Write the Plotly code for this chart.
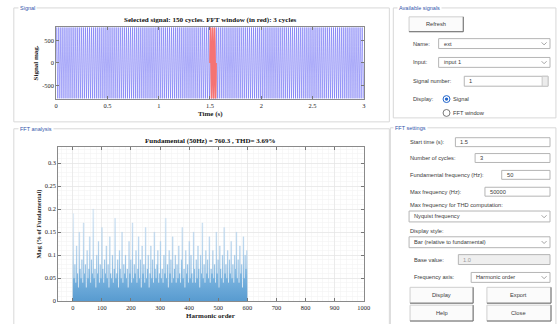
import numpy as np
import plotly.graph_objects as go

W, H = 557, 324

# ---------------- data ----------------
signal_cycles = 150
signal_freq_hz = 50
signal_peak = 790.0
window_start_s = 1.5
window_cycles = 3

time_ticks = [0, 0.5, 1, 1.5, 2, 2.5, 3]
time_tick_labels = ["0", "0.5", "1", "1.5", "2", "2.5", "3"]
sig_ticks = [-500, 0, 500]
sig_tick_labels = ["-500", "0", "500"]

harm_ticks = [0, 100, 200, 300, 400, 500, 600, 700, 800, 900, 1000]
mag_ticks = [0, 0.05, 0.1, 0.15, 0.2, 0.25, 0.3]
mag_tick_labels = ["0", "0.05", "0.1", "0.15", "0.2", "0.25", "0.3"]

harm_step = 3
harm_mags = [
    0.19,0.05,0.08,0.04,0.12,0.06,0.03,0.15,0.07,0.05,0.09,0.04,0.17,0.06,0.08,0.03,0.11,0.05,0.07,0.14,
    0.04,0.09,0.06,0.20,0.05,0.07,0.03,0.10,0.06,0.13,0.04,0.08,0.05,0.16,0.07,0.04,0.09,0.06,0.12,0.05,
    0.08,0.03,0.14,0.06,0.05,0.10,0.04,0.07,0.18,0.05,0.06,0.09,0.03,0.11,0.07,0.05,0.15,0.04,0.08,0.06,
    0.10,0.05,0.07,0.03,0.13,0.06,0.09,0.04,0.17,0.05,0.08,0.06,0.11,0.04,0.07,0.14,0.05,0.09,0.03,0.12,
    0.06,0.08,0.04,0.16,0.05,0.07,0.10,0.03,0.06,0.12,0.05,0.09,0.04,0.15,0.07,0.05,0.08,0.11,0.04,0.06,
    0.13,0.05,0.07,0.04,0.10,0.06,0.18,0.05,0.08,0.03,0.11,0.06,0.09,0.04,0.14,0.05,0.07,0.10,0.04,0.08,
    0.05,0.12,0.06,0.04,0.09,0.16,0.05,0.07,0.03,0.11,0.06,0.08,0.04,0.13,0.05,0.10,0.06,0.04,0.15,0.07,
    0.04,0.09,0.05,0.12,0.07,0.03,0.10,0.06,0.17,0.05,0.08,0.04,0.11,0.06,0.09,0.05,0.14,0.04,0.07,0.06,
    0.11,0.05,0.08,0.04,0.15,0.06,0.09,0.03,0.12,0.07,0.05,0.10,0.04,0.16,0.06,0.08,0.05,0.11,0.04,0.09,
    0.06,0.13,0.05,0.08,0.04,0.10,0.07,0.15,0.05,0.09,0.04,0.12,0.06,0.08,0.03,0.14,0.05,0.10,0.07,0.11,
]
harm_orders = [i * harm_step for i in range(len(harm_mags))]

signal_title = "Selected signal: 150 cycles. FFT window (in red): 3 cycles"
fft_title = "Fundamental (50Hz) = 760.3 , THD= 3.69%"

# ---------------- helpers ----------------
def px(x):
    return x / W

def py(y):
    return 1 - y / H

SERIF = "Liberation Serif"
SANS = "Liberation Sans"
GUI_COL = "#3a3a3a"
GUI_SIZE = 5.7

shapes = []
annotations = []

def text(x, y, s, size=GUI_SIZE, color=GUI_COL, family=SANS, xanchor="left", bold=False, bg=None, textangle=0):
    a = dict(x=px(x), y=py(y), xref="paper", yref="paper", text=(f"<b>{s}</b>" if bold else s),
             showarrow=False, xanchor=xanchor, yanchor="middle",
             font=dict(family=family, size=size, color=color), textangle=textangle)
    if bg:
        a["bgcolor"] = bg
        a["borderpad"] = 1
    annotations.append(a)

def rect(x0, y0, x1, y1, line="#c8c8c8", fill=None, width=1):
    shapes.append(dict(type="rect", xref="paper", yref="paper", x0=px(x0), x1=px(x1), y0=py(y0), y1=py(y1),
                       line=dict(color=line, width=width), fillcolor=fill or "rgba(0,0,0,0)", layer="above"))

def line(x0, y0, x1, y1, color="#777", width=1):
    shapes.append(dict(type="line", xref="paper", yref="paper", x0=px(x0), x1=px(x1), y0=py(y0), y1=py(y1),
                       line=dict(color=color, width=width), layer="above"))

def chevron(x, y):
    shapes.append(dict(type="path", xref="paper", yref="paper",
                       path=f"M {px(x-2.5)} {py(y-1.2)} L {px(x)} {py(y+1.3)} L {px(x+2.5)} {py(y-1.2)}",
                       line=dict(color="#8a8a8a", width=0.8), layer="above"))

def dropdown(x0, y0, x1, y1, s):
    rect(x0, y0, x1, y1, line="#b5b5b5", fill="white")
    text(x0 + 3, (y0 + y1) / 2, s)
    chevron(x1 - 6, (y0 + y1) / 2)

def editbox(x0, y0, x1, y1, s, fill="white", color=GUI_COL):
    rect(x0, y0, x1, y1, line="#b5b5b5", fill=fill)
    text(x0 + 3, (y0 + y1) / 2, s, color=color)

def button(x0, y0, x1, y1, s):
    rect(x0, y0, x1, y1, line="#cfcfcf", fill="#fbfbfb")
    line(x1, y0, x1, y1, color="#6e6e6e", width=1)
    line(x0, y1, x1, y1, color="#6e6e6e", width=1)
    text((x0 + x1) / 2, (y0 + y1) / 2, s, xanchor="center")

def panel(x0, y0, x1, y1, title, tx):
    rect(x0, y0, x1, y1, line="#d8d8d8")
    text(tx, y0, title, size=5.5, color="#3355aa", bg="white")

# ---------------- figure ----------------
t = np.linspace(0, signal_cycles / signal_freq_hz, signal_cycles * 40 + 1)
sig = signal_peak * np.sin(2 * np.pi * signal_freq_hz * t)
win_end = window_start_s + window_cycles / signal_freq_hz
mask = (t >= window_start_s) & (t <= win_end)

# step outline of the spectrum (each harmonic group spans one step)
spec_x = harm_orders + [harm_orders[-1] + harm_step]
spec_y = harm_mags + [harm_mags[-1]]

fig = go.Figure()
fig.add_trace(go.Scatter(x=t, y=sig, mode="lines", line=dict(color="rgb(90,90,242)", width=0.5),
                         xaxis="x", yaxis="y", hoverinfo="skip", showlegend=False))
fig.add_trace(go.Scatter(x=t[mask], y=sig[mask], mode="lines", line=dict(color="rgb(245,115,115)", width=1.6),
                         xaxis="x", yaxis="y", hoverinfo="skip", showlegend=False))
fig.add_trace(go.Scatter(x=spec_x, y=spec_y, mode="lines", line_shape="hv",
                         line=dict(color="rgba(120,175,220,0.35)", width=0.5),
                         fill="tozeroy",
                         fillgradient=dict(type="vertical",
                                           colorscale=[[0, "rgb(88,155,208)"], [0.25, "rgb(120,178,222)"],
                                                       [0.55, "rgb(185,214,238)"], [1, "rgb(238,245,251)"]]),
                         xaxis="x2", yaxis="y2", hoverinfo="skip", showlegend=False))

tickfont = dict(family=SERIF, size=6.4, color="#222")
common = dict(showline=True, linecolor="#8a8a8a", linewidth=1, mirror="ticks", ticks="inside",
              ticklen=3, tickcolor="#777", tickfont=tickfont, zeroline=False)

sig_dom_x = [px(55), px(367)]
sig_dom_y = [py(100), py(27)]
fft_dom_x = [px(57), px(367)]
fft_dom_y = [py(304), py(148)]

fig.update_layout(
    width=W, height=H, autosize=False,
    margin=dict(l=0, r=0, t=0, b=0),
    paper_bgcolor="white", plot_bgcolor="white",
    hovermode=False,
    xaxis=dict(domain=sig_dom_x, anchor="y", range=[0, 3], tickvals=time_ticks, ticktext=time_tick_labels,
               showgrid=False, **common),
    yaxis=dict(domain=sig_dom_y, anchor="x", range=[-805, 805], tickvals=sig_ticks, ticktext=sig_tick_labels,
               showgrid=False, **common),
    xaxis2=dict(domain=fft_dom_x, anchor="y2", range=[-50, 1000], tickvals=harm_ticks,
                showgrid=True, gridcolor="#e3e3e3", gridwidth=0.6,
                minor=dict(dtick=20, showgrid=True, gridcolor="#f1f1f1", gridwidth=0.5, ticks=""),
                **common),
    yaxis2=dict(domain=fft_dom_y, anchor="x2", range=[0, 0.336], tickvals=mag_ticks, ticktext=mag_tick_labels,
                showgrid=True, gridcolor="#e3e3e3", gridwidth=0.6,
                minor=dict(dtick=0.01, showgrid=True, gridcolor="#f1f1f1", gridwidth=0.5, ticks=""),
                **common),
)

# panels
panel(12, 8, 393, 123, "Signal", 16)
panel(12, 130, 393, 330, "FFT analysis", 16)
panel(397, 8, 562, 119, "Available signals", 401)
panel(394, 129, 562, 330, "FFT settings", 397)

# plot titles / axis labels
text(212, 20, signal_title, size=7.1, color="#111", family=SERIF, xanchor="center", bold=True)
text(212, 115, "Time (s)", size=7, color="#222", family=SERIF, xanchor="center", bold=True)
text(34, 63.5, "Signal mag.", size=7, color="#222", family=SERIF, xanchor="center", bold=True, textangle=-90)
text(212, 142.5, fft_title, size=7, color="#111", family=SERIF, xanchor="center", bold=True)
text(212, 318.5, "Harmonic order", size=7, color="#222", family=SERIF, xanchor="center", bold=True)
text(37, 226, "Mag (% of Fundamental)", size=6.3, color="#222", family=SERIF, xanchor="center", bold=True, textangle=-90)

# Available signals widgets
button(413, 17, 468, 32, "Refresh")
text(415, 44, "Name:")
dropdown(443, 39, 556, 49, "ext")
text(415, 63, "Input:")
dropdown(443, 58, 556, 68, "input 1")
text(415, 82, "Signal number:")
rect(469, 77, 554, 87, line="#b5b5b5", fill="white")
rect(548, 77, 554, 87, line="#c8c8c8", fill="#ececec")
text(472, 82, "1")
text(415, 100, "Display:")
shapes.append(dict(type="circle", xref="paper", yref="paper", x0=px(447.5), x1=px(454.5), y0=py(103.5), y1=py(96.5),
                   line=dict(color="#2266cc", width=1), fillcolor="white", layer="above"))
shapes.append(dict(type="circle", xref="paper", yref="paper", x0=px(449.3), x1=px(452.7), y0=py(101.7), y1=py(98.3),
                   line=dict(color="#2266cc", width=0), fillcolor="#2266cc", layer="above"))
text(456, 100, "Signal")
shapes.append(dict(type="circle", xref="paper", yref="paper", x0=px(447.5), x1=px(454.5), y0=py(117.5), y1=py(110.5),
                   line=dict(color="#555", width=0.8), fillcolor="white", layer="above"))
text(456, 114, "FFT window")

# FFT settings widgets
text(412, 143.5, "Start time (s):")
editbox(460, 139, 556, 148, "1.5")
text(412, 159.5, "Number of cycles:")
editbox(480, 155, 556, 164, "3")
text(412, 176.5, "Fundamental frequency (Hz):")
editbox(507, 172, 556, 181, "50")
text(412, 193.5, "Max frequency (Hz):")
editbox(490, 189, 556, 198, "50000")
text(412, 207, "Max frequency for THD computation:")
dropdown(413, 213, 556, 224, "Nyquist frequency")
text(412, 233, "Display style:")
dropdown(413, 239, 556, 250, "Bar (relative to fundamental)")
text(416, 262, "Base value:")
editbox(463, 257, 556, 267, "1.0", fill="#efefef", color="#9a9a9a")
text(416, 280, "Frequency axis:")
dropdown(476, 275, 556, 285, "Harmonic order")
button(414, 290, 478, 306, "Display")
button(492, 290, 557, 306, "Export")
button(414, 308, 478, 324, "Help")
button(492, 308, 557, 324, "Close")

fig.update_layout(shapes=shapes, annotations=annotations)
fig.write_html("out.html", config={"displayModeBar": False, "staticPlot": True},
               post_script="document.body.style.margin='0';document.body.style.overflow='hidden';")
